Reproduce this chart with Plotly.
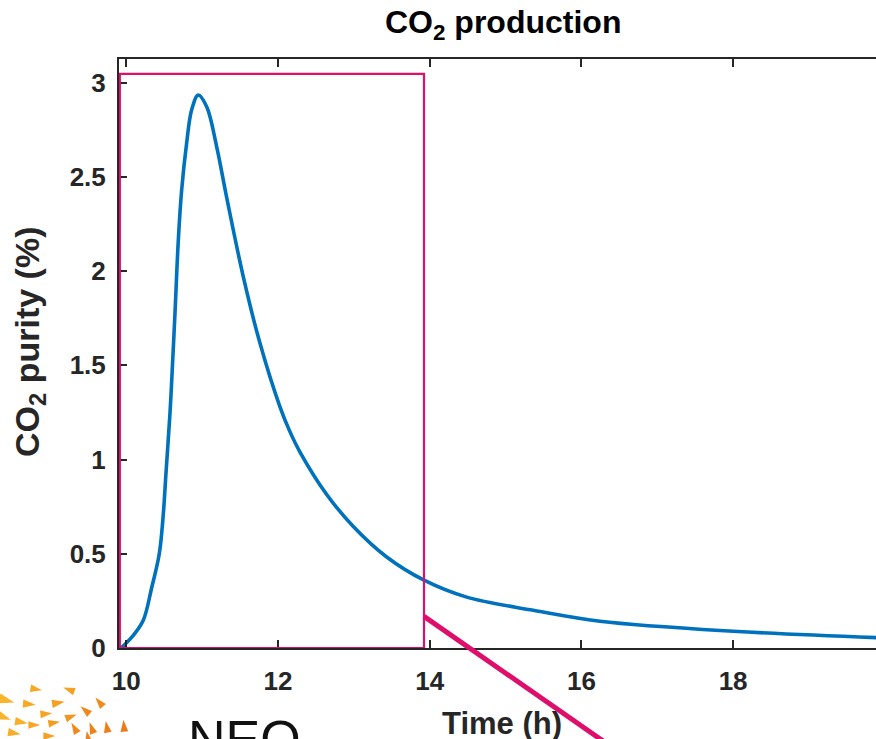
import math
import plotly.graph_objects as go

# ---- data ----
time_h = [9.93, 9.983, 10.093, 10.224, 10.335, 10.435, 10.488, 10.523, 10.576, 10.599, 10.642,
          10.686, 10.730, 10.796, 10.862, 10.949, 11.06, 11.192, 11.324, 11.543,
          11.763, 12.026, 12.15, 12.29, 12.642, 12.993, 13.433, 13.925,
          14.488, 15.366, 16.245, 18.0, 19.884, 20.5]
co2_purity = [0.0, 0.02, 0.067, 0.147, 0.32, 0.50, 0.71, 0.926, 1.245, 1.42, 1.776,
              2.165, 2.43, 2.68, 2.856, 2.935, 2.873, 2.66, 2.39, 1.97,
              1.617, 1.28, 1.155, 1.04, 0.815, 0.645, 0.483, 0.36,
              0.27, 0.2, 0.142, 0.089, 0.055, 0.048]
x_ticks = [10, 12, 14, 16, 18]
x_ticktext = ["10", "12", "14", "16", "18"]
y_ticks = [0, 0.5, 1, 1.5, 2, 2.5, 3]
y_ticktext = ["0", "0.5", "1", "1.5", "2", "2.5", "3"]
zoom_box_x = [9.915, 13.925]
zoom_box_y = [0.0, 3.047]
callout_x = [13.925, 16.38]
callout_y = [0.168, -0.52]

X_RANGE = [9.904, 19.884]
Y_RANGE = [0.0, 3.126]

W, H = 876, 739
ML, MR, MT, MB = 119, 0, 59, 91
PW, PH = W - ML - MR, H - MT - MB

AX = "#262626"
BLUE = "#0072BD"
PINK = "#DE0F6A"
FONT = "Liberation Sans, Arial, Helvetica, sans-serif"


def xd2p(x):
    return (x - X_RANGE[0]) / (X_RANGE[1] - X_RANGE[0])


def yd2p(y):
    return (y - Y_RANGE[0]) / (Y_RANGE[1] - Y_RANGE[0])


def px(X):
    return (X - ML) / PW


def py(Y):
    return (H - MB - Y) / PH


fig = go.Figure()
fig.add_trace(go.Scatter(x=time_h, y=co2_purity, mode="lines",
                         line=dict(color=BLUE, width=3.6, shape="spline", smoothing=1.0),
                         hoverinfo="skip", showlegend=False))

shapes = []
shapes.append(dict(type="rect", xref="x", yref="y",
                   x0=zoom_box_x[0], x1=zoom_box_x[1], y0=zoom_box_y[0], y1=zoom_box_y[1],
                   line=dict(color=PINK, width=2.2), layer="above"))
shapes.append(dict(type="line", xref="paper", yref="paper",
                   x0=xd2p(callout_x[0]), x1=xd2p(callout_x[1]),
                   y0=yd2p(callout_y[0]), y1=yd2p(callout_y[1]),
                   line=dict(color=PINK, width=5), layer="above"))

# decorative logo triangles (pixel centre, size, angle in degrees, colour)
logo_tris = [
    (35, 689, 12, -10, "#F7A823"), (70, 690, 12, 160, "#F6A020"), (5, 700, 16, -15, "#F9B42E"),
    (28, 704, 13, -5, "#F7AA25"), (57, 703, 13, 10, "#F5A020"), (100, 703, 12, 130, "#F08A1C"),
    (3, 717, 14, -20, "#F9B42E"), (45, 714, 12, 5, "#F6A422"), (70, 717, 12, 20, "#F39620"),
    (86, 711, 12, 140, "#F0881C"), (20, 722, 13, -10, "#F8AE2A"), (33, 725, 12, 0, "#F6A623"),
    (53, 723, 12, 10, "#F49C20"), (75, 729, 12, 120, "#F0881C"), (92, 729, 12, 110, "#EE821B"),
    (107, 728, 12, 100, "#EE7E1B"), (124, 727, 12, 95, "#EC7A1A"), (13, 733, 13, -10, "#F8AE2A"),
    (48, 736, 12, 0, "#F5A022"), (88, 738, 12, 100, "#EE821B"),
]
for cx, cy, s, ang, col in logo_tris:
    a = math.radians(ang)
    pts = []
    for k, r in ((0, s * 0.6), (140, s * 0.5), (220, s * 0.5)):
        t = a + math.radians(k)
        pts.append((cx + r * math.cos(t), cy - r * math.sin(t)))
    path = "M {} {} L {} {} L {} {} Z".format(px(pts[0][0]), py(pts[0][1]),
                                              px(pts[1][0]), py(pts[1][1]),
                                              px(pts[2][0]), py(pts[2][1]))
    shapes.append(dict(type="path", xref="paper", yref="paper", path=path,
                       fillcolor=col, line=dict(width=0), layer="above"))

annotations = [
    dict(text="<b>CO<sub>2</sub> production</b>", xref="paper", yref="paper",
         x=px(503), y=py(24), xanchor="center", yanchor="middle", showarrow=False,
         font=dict(family=FONT, size=32, color="#000000")),
    dict(text="<b>Time (h)</b>", xref="paper", yref="paper",
         x=px(502), y=py(724), xanchor="center", yanchor="middle", showarrow=False,
         font=dict(family=FONT, size=31, color=AX)),
    dict(text="<b>CO<sub>2</sub> purity (%)</b>", xref="paper", yref="paper",
         x=px(29), y=py(342), xanchor="center", yanchor="middle", showarrow=False,
         textangle=-90, font=dict(family=FONT, size=34, color=AX)),
    dict(text="NEO", xref="paper", yref="paper",
         x=px(186), y=py(708), xanchor="left", yanchor="top", showarrow=False,
         font=dict(family=FONT, size=52, color="#111111")),
]

axis_common = dict(showgrid=False, zeroline=False, showline=True, linecolor=AX, linewidth=2,
                   ticks="inside", ticklen=8, tickwidth=1.6, tickcolor=AX,
                   tickfont=dict(family=FONT, size=26, color=AX, weight="bold"))

fig.update_layout(
    width=W, height=H,
    margin=dict(l=ML, r=MR, t=MT, b=MB, pad=0),
    paper_bgcolor="white", plot_bgcolor="white",
    showlegend=False,
    xaxis=dict(range=X_RANGE, tickvals=x_ticks, ticktext=x_ticktext, mirror="ticks",
               ticklabelstandoff=9, **axis_common),
    yaxis=dict(range=Y_RANGE, tickvals=y_ticks, ticktext=y_ticktext, mirror=False,
               ticklabelstandoff=6, **axis_common),
    shapes=shapes,
    annotations=annotations,
)

fig.write_html("out.html")
